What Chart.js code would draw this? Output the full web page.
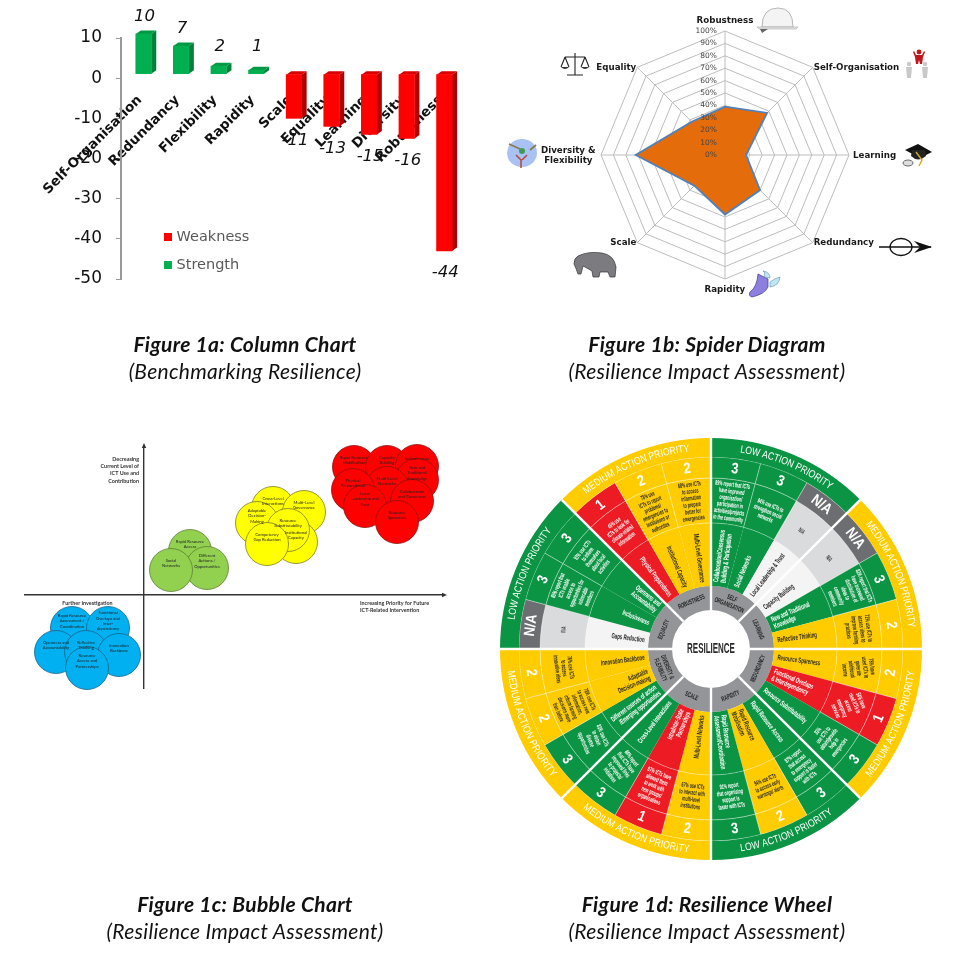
<!DOCTYPE html>
<html>
<head>
<meta charset="utf-8">
<title>Resilience figures</title>
<script src="https://cdn.jsdelivr.net/npm/chart.js@4"></script>
<style>
  html, body { margin: 0; padding: 0; background: #fff; }
  #page { position: relative; width: 961px; height: 956px; overflow: hidden; }
  canvas { position: absolute; }
  #icons { position: absolute; left: 0; top: 0; pointer-events: none; }
  .cap { position: absolute; width: 340px; text-align: center; font-family: Lato, sans-serif; font-style: italic; font-size: 21px; letter-spacing: .3px; line-height: 27px; color: #111; }
  .cap b { display: block; }
</style>
</head>
<body>
<div id="page">
  <canvas id="columnChart" width="480" height="300" style="left:0;top:0"></canvas>
  <canvas id="spiderChart" width="300" height="300" style="left:574.5px;top:5px"></canvas>
  <canvas id="bubbleChart" width="440" height="262" style="left:15px;top:436px;filter:blur(.3px)"></canvas>
  <canvas id="wheelChart" width="430" height="430" style="left:495.5px;top:434px;filter:blur(.25px)"></canvas>

  <svg id="icons" width="961" height="956">
    <!-- helmet -->
    <path d="M762 27 Q762 8 778 8 Q793 8 793 27 Z" fill="#f4f4f4" stroke="#b5b5b5"/>
    <path d="M757 27 L798 27 L796 29 L759 29 Z" fill="#e4e4e4" stroke="#aaa" stroke-width=".6"/>
    <path d="M760 29 L768 29 L762 33 Z" fill="#666"/>
    <!-- scales -->
    <path d="M575 53 V75 M567 75 H583 M565 57 H585 M565 57 L561 67 M565 57 L569 67 M585 57 L581 67 M585 57 L589 67" stroke="#222" stroke-width="1.1" fill="none"/>
    <path d="M561 67 Q565 71 569 67 Z M581 67 Q585 71 589 67 Z" fill="#333"/>
    <!-- figures -->
    <g fill="#c9c9c9"><circle cx="909" cy="64" r="2.2"/><circle cx="925" cy="64" r="2.2"/><path d="M906 67 H912 L911 78 H907 Z M922 67 H928 L927 78 H923 Z"/></g>
    <g fill="#c1151b"><circle cx="919" cy="52" r="2.4"/><path d="M914 51 L916 55 H922 L924 51 L925 52 L923 57 L922 64 H920 L919 60 L918 64 H916 L915 57 L913 52 Z"/></g>
    <!-- mortar board -->
    <path d="M905 150 L918 144 L932 152 L920 158 Z" fill="#111"/>
    <path d="M911 156 Q918 163 926 156 L925 150 L912 150 Z" fill="#222"/>
    <path d="M916 152 L922 160 L919 166" stroke="#d8a820" stroke-width="1.4" fill="none"/>
    <ellipse cx="908" cy="163" rx="5" ry="3" fill="#ddd" stroke="#666"/>
    <!-- arrow -->
    <path d="M879 247 H931" stroke="#111" stroke-width="1.6"/>
    <ellipse cx="901" cy="247" rx="11" ry="8.5" fill="none" stroke="#111" stroke-width="1.3"/>
    <path d="M914 241 L932 247 L914 253 L920 247 Z" fill="#111"/>
    <!-- winged shoe -->
    <path d="M758 274 L768 279 L768 287 Q765 294 752 297 Q748 296 750 292 Q757 287 758 274 Z" fill="#8d7fe0" stroke="#443a88" stroke-width=".7"/>
    <path d="M764 277 Q766 272 763 271 Q770 272 770 278 Z M770 282 Q775 278 780 277 Q779 286 770 287 Z" fill="#bfe6f5" stroke="#4a7f99" stroke-width=".5"/>
    <!-- elephant -->
    <path d="M578 256 Q588 251 602 253 Q614 255 616 267 L615 277 L610 277 L608 272 L600 272 L599 277 L593 277 L592 271 Q587 268 583 266 L581 274 L578 274 Q576 268 574 264 Q574 258 578 256 Z" fill="#7b7b80" stroke="#333" stroke-width=".7"/>
    <!-- diversity -->
    <ellipse cx="522" cy="153" rx="15" ry="14" fill="#a9c2f4"/>
    <path d="M509 144 L520 149 M530 150 L536 145" stroke="#8b7a55" stroke-width="1.8"/>
    <circle cx="522" cy="151" r="3" fill="#3f9a55"/>
    <path d="M516 155 L521 160 L521 168 M527 155 L522 160" stroke="#b7453a" stroke-width="1.5" fill="none"/>
  </svg>

  <div class="cap" style="left:75px;top:330px"><b>Figure 1a: Column Chart</b>(Benchmarking Resilience)</div>
  <div class="cap" style="left:537px;top:330px"><b>Figure 1b: Spider Diagram</b>(Resilience Impact Assessment)</div>
  <div class="cap" style="left:75px;top:890px"><b>Figure 1c: Bubble Chart</b>(Resilience Impact Assessment)</div>
  <div class="cap" style="left:537px;top:890px"><b>Figure 1d: Resilience Wheel</b>(Resilience Impact Assessment)</div>
</div>

<script>
// figure 1a
const columnCategories = ['Self-Organisation', 'Redundancy', 'Flexibility', 'Rapidity', 'Scale', 'Equality', 'Learning', 'Diversity', 'Robustness']
const strengthValues = [10, 7, 2, 1, null, null, null, null, null]
const weaknessValues = [null, null, null, null, -11, -13, -15, -16, -44]

// figure 1b
const spiderLabels = ['Robustness', 'Self-Organisation', 'Learning', 'Redundancy', 'Rapidity', 'Scale', ['Diversity &', 'Flexibility'], 'Equality']
const spiderValues = [39, 48, 17, 40, 48, 35, 72, 38]
const spiderTicks = [0, 10, 20, 30, 40, 50, 60, 70, 80, 90, 100]

// figure 1c
const greenNames = [['Rapid Resource', 'Access'], ['Different', 'Actions /', 'Opportunities'], ['Social', 'Networks']]
const greenX = [46, 63, 27]
const greenY = [44, 27, 25]
const yellowNames = [['Cross-Level', 'Interactions'], ['Multi-Level', 'Governance'], ['Adaptable', 'Decision-', 'Making'], ['Institutional', 'Capacity'], ['Resource', 'Substitutability'], ['Competency', 'Gap Reduction']]
const yellowX = [129, 160, 113, 152, 144, 123]
const yellowY = [87, 83, 72, 53, 65, 51]
const redNames = [['Rapid Resource', 'Mobilisation'], ['Capacity', 'Building'], ['Inclusiveness'], ['New and', 'Traditional', 'Knowledge'], ['Multi-Level', 'Networks'], ['Physical', 'Preparedness'], ['Collaboration', 'and Consensus'], ['Local', 'Leadership and', 'Trust'], ['Resource', 'Spareness']]
const redX = [210, 243, 273, 273, 243, 209, 268, 221, 253]
const redY = [128, 128, 129, 115, 107, 105, 94, 89, 73]
const blueNames = [['Rapid Resource', 'Assessment /', 'Coordination'], ['Functional', 'Overlaps and', 'Inter-', 'dependency'], ['Openness and', 'Accountability'], ['Reflective', 'Thinking'], ['Innovation', 'Backbone'], ['Resource', 'Access and', 'Partnerships']]
const blueX = [-72, -36, -88, -58, -25, -57]
const blueY = [-33, -33, -57, -57, -60, -73]
const bubbleSize = 21.5

// figure 1d, clockwise from twelve o'clock
const wheelDimensions = ['SELF\nORGANISATION', 'LEARNING', 'REDUNDANCY', 'RAPIDITY', 'SCALE', 'DIVERSITY &\nFLEXIBILITY', 'EQUALITY', 'ROBUSTNESS']
const wheelPriorities = ['LOW ACTION PRIORITY', 'MEDIUM ACTION PRIORITY', 'MEDIUM ACTION PRIORITY', 'LOW ACTION PRIORITY', 'MEDIUM ACTION PRIORITY', 'MEDIUM ACTION PRIORITY', 'LOW ACTION PRIORITY', 'MEDIUM ACTION PRIORITY']
const factorsPerDimension = [3, 3, 3, 3, 3, 3, 3, 3]
const wheelScores = ['3', '3', 'N/A', 'N/A', '3', '2', '2', '1', '3', '3', '2', '3', '2', '1', '3', '3', '2', '2', 'N/A', '3', '3', '1', '2', '2']
const wheelFactors = [
  ['Collaboration/Consensus', 'Building & Participation'], ['Social Networks'], ['Local Leadership & Trust'],
  ['Capacity Building'], ['New and Traditional', 'Knowledge'], ['Reflective Thinking'],
  ['Resource Spareness'], ['Functional Overlaps', '& Interdependency'], ['Resource Substitutability'],
  ['Rapid Resource Access'], ['Rapid Resource', 'Mobilisation'], ['Rapid Resource', 'Assessment/Coordination'],
  ['Multi-Level Networks'], ['Intra/Inter-State', 'Partnerships'], ['Cross-Level Interactions'],
  ['Different sources of action', '/Emerging opportunities'], ['Adaptable', 'Decision-making'], ['Innovation Backbone'],
  ['Gaps Reduction'], ['Inclusiveness'], ['Openness and', 'Accountability'],
  ['Physical Preparedness'], ['Institutional Capacity'], ['Multi-Level Governance']
]
const wheelStatements = [
  ['89% report that ICTs', 'have improved', 'organisation/', 'participation in', 'activities/projects', 'in the community'],
  ['94% use ICTs to', 'strengthen social', 'networks'],
  ['N/A'],
  ['N/A'],
  ['83% report that ICTs', 'have increased', 'distribution of', 'ideas to', 'community', 'members'],
  ['72% use ICTs to', 'access ideas to', 'improve farming', 'practices'],
  ['78% have', 'used ICTs to', 'generate', 'additional', 'income'],
  ['54% have', 'used ICTs to', 'access', 'emergency', 'services'],
  ['83%', 'use ICTs to', 'obtain/provide', 'help in', 'emergencies'],
  ['87% report', 'that access', 'to emergency', 'support is faster', 'with ICTs'],
  ['94% use ICTs', 'to access early', 'warnings/ alerts'],
  ['91% report', 'that organising', 'support is', 'faster with ICTs'],
  ['67% use ICTs', 'to interact with', 'multi-level', 'institutions'],
  ['87% ICTs have', 'allowed them', 'to work with', 'new groups/', 'organisations'],
  ['84% report', 'that ICTs have', 'improved links', 'to projects/', 'initiatives'],
  ['83% use ICTs', 'to obtain', 'diverse', 'opportunities'],
  ['78% use ICTs', 'to access new', 'information,', 'inform farming', 'decisions more', 'than before'],
  ['76% use ICTs', 'to access', 'innovative ideas'],
  ['N/A'],
  ['85% report that', 'ICTs enable', 'access to', 'opportunities for', 'vulnerable', 'members'],
  ['93% use ICTs', 'to inform', 'themselves', 'about local', 'activities'],
  ['45% use', 'ICTs to look for', 'climate-related', 'information'],
  ['78% use', 'ICTs to report', 'problems/', 'emergencies to', 'institutions or', 'authorities'],
  ['68% use ICTs', 'to access', 'information', 'to prepare', 'better for', 'emergencies']
]

Chart.defaults.animation = false
Chart.defaults.responsive = false
Chart.defaults.plugins.legend.display = false
Chart.defaults.plugins.tooltip.enabled = false

const VERDANA = '"DejaVu Sans", sans-serif'
const WHEEL_FONT = '"Liberation Sans", sans-serif'

// ---- column chart ----
const barShift = { x: 3.7, y: -4 }
const barDepth = { x: 5, y: -3.5 }

const columnPlugin = {
  id: 'column3d',
  beforeDatasetsDraw(chart) {
    const ctx = chart.ctx
    ctx.save()
    ctx.translate(barShift.x, barShift.y)
    chart.data.datasets.forEach((ds, i) => {
      chart.getDatasetMeta(i).data.forEach((bar, j) => {
        if (ds.data[j] == null) return
        const left = bar.x - bar.width / 2, right = bar.x + bar.width / 2
        const top = Math.min(bar.y, bar.base), bottom = Math.max(bar.y, bar.base)
        ctx.fillStyle = ds.sideColor
        ctx.beginPath()
        ctx.moveTo(right, top); ctx.lineTo(right + barDepth.x, top + barDepth.y)
        ctx.lineTo(right + barDepth.x, bottom + barDepth.y); ctx.lineTo(right, bottom)
        ctx.fill()
        ctx.fillStyle = ds.topColor
        ctx.beginPath()
        ctx.moveTo(left, top); ctx.lineTo(left + barDepth.x, top + barDepth.y)
        ctx.lineTo(right + barDepth.x, top + barDepth.y); ctx.lineTo(right, top)
        ctx.fill()
      })
    })
  },
  afterDatasetsDraw(chart) {
    const ctx = chart.ctx
    ctx.restore()
    ctx.save()
    ctx.font = 'italic 16.5px ' + VERDANA
    ctx.fillStyle = '#111'
    ctx.textAlign = 'center'
    ctx.textBaseline = 'middle'
    chart.data.datasets.forEach((ds, i) => {
      chart.getDatasetMeta(i).data.forEach((bar, j) => {
        const v = ds.data[j]
        if (v == null) return
        const x = bar.x + barShift.x + 1
        const y = v > 0 ? Math.min(bar.y + barShift.y - 17, 47) : bar.y + barShift.y + 22
        ctx.fillText(String(v), x, y)
      })
    })
    // legend, weakness first like the source
    ctx.font = '14.5px ' + VERDANA
    ctx.textAlign = 'left'
    chart.data.datasets.forEach((ds, i) => {
      const y = 237 + i * 28
      ctx.fillStyle = ds.backgroundColor
      ctx.fillRect(164, y - 4, 8, 8)
      ctx.fillStyle = '#595959'
      ctx.fillText(ds.label, 176.5, y)
    })
    ctx.restore()
  }
}

new Chart(document.getElementById('columnChart'), {
  type: 'bar',
  data: {
    labels: columnCategories,
    datasets: [
      { label: 'Weakness', data: weaknessValues, backgroundColor: '#FF0000', sideColor: '#B00000', topColor: '#D80000', grouped: false, barThickness: 15.5, clip: false },
      { label: 'Strength', data: strengthValues, backgroundColor: '#00B050', sideColor: '#00803A', topColor: '#009A46', grouped: false, barThickness: 15.5, clip: false }
    ]
  },
  options: {
    layout: { padding: { left: 0, right: 20.6, top: 38, bottom: 21 } },
    scales: {
      x: {
        position: { y: 0 },
        z: 1,
        grid: { display: false },
        border: { display: false },
        ticks: { autoSkip: false, minRotation: 45, maxRotation: 45, padding: 6, color: '#111', font: { family: VERDANA, size: 13.5, weight: 'bold' } },
        afterFit(s) { s.paddingLeft = 0; s.paddingRight = 0 }
      },
      y: {
        min: -50, max: 10,
        grid: { drawOnChartArea: false, color: '#999', tickLength: 5 },
        border: { color: '#999', width: 2 },
        ticks: { stepSize: 10, padding: 14, color: '#111', font: { family: VERDANA, size: 17 } },
        afterFit(s) { s.width = 121; s.paddingTop = 0; s.paddingBottom = 0 }
      }
    }
  },
  plugins: [columnPlugin]
})

// ---- spider diagram ----
const spiderPlugin = {
  id: 'spiderText',
  afterDatasetsDraw(chart) {
    const ctx = chart.ctx, scale = chart.scales.r
    ctx.save()
    ctx.textBaseline = 'middle'
    ctx.font = '7.5px ' + VERDANA
    ctx.fillStyle = '#444'
    ctx.textAlign = 'right'
    spiderTicks.forEach(v => {
      const y = scale.getPointPositionForValue(0, v).y
      ctx.fillText(v + '%', scale.xCenter - 8, y)
    })
    ctx.restore()
  }
}

new Chart(document.getElementById('spiderChart'), {
  type: 'radar',
  data: {
    labels: spiderLabels,
    datasets: [{ data: spiderValues, backgroundColor: '#E46C0A', borderColor: '#4F81BD', borderWidth: 1.8, pointRadius: 0, tension: 0 }]
  },
  options: {
    layout: { padding: 25.5 },
    scales: {
      r: {
        min: 0, max: 100,
        ticks: { display: false, stepSize: 10 },
        grid: { color: '#bdbdbd', lineWidth: 1 },
        angleLines: { color: '#bdbdbd' },
        pointLabels: { display: false }
      }
    }
  },
  plugins: [spiderPlugin]
})

// point labels sit well outside the square canvas, so they are page text
;(function placeSpiderLabels() {
  const chart = Chart.getChart('spiderChart')
  const scale = chart.scales.r
  const page = document.getElementById('page')
  const box = document.getElementById('spiderChart')
  spiderLabels.forEach((label, i) => {
    const p = scale.getPointPositionForValue(i, 100)
    const px = p.x + box.offsetLeft, py = p.y + box.offsetTop
    const el = document.createElement('div')
    el.innerHTML = [].concat(label).join('<br>')
    el.style.cssText = 'position:absolute;white-space:nowrap;text-align:center;font:bold 8.7px/10.5px ' + VERDANA.replace(/"/g, "'") + ';color:#1a1a1a'
    page.appendChild(el)
    const w = el.offsetWidth, h = el.offsetHeight
    const dx = p.x - scale.xCenter, dy = p.y - scale.yCenter
    let left = px - w / 2, top = py - h / 2
    if (dx > 1) left = px + (Math.abs(dy) < 1 ? 4 : 1)
    if (dx < -1) left = px - w - (Math.abs(dy) < 1 ? 5 : 1)
    if (Math.abs(dx) < 1) top = py + (dy < 0 ? -16 : 5)
    el.style.left = left + 'px'
    el.style.top = top + 'px'
  })
})()

// ---- bubble chart ----
function bubbleGroup(xs, ys, names, fill, stroke) {
  return {
    data: xs.map((x, i) => ({ x: x, y: ys[i], r: bubbleSize })),
    names: names,
    backgroundColor: fill,
    borderColor: stroke,
    borderWidth: 0.8,
    clip: false
  }
}

function arrowHead(ctx, x, y, angle) {
  ctx.save()
  ctx.translate(x, y)
  ctx.rotate(angle)
  ctx.beginPath()
  ctx.moveTo(3, 0); ctx.lineTo(-2, -2.2); ctx.lineTo(-2, 2.2)
  ctx.closePath()
  ctx.fill()
  ctx.restore()
}

const bubblePlugin = {
  id: 'bubbleText',
  afterDatasetsDraw(chart) {
    const ctx = chart.ctx, area = chart.chartArea
    ctx.save()
    ctx.textAlign = 'center'
    ctx.textBaseline = 'middle'
    ctx.fillStyle = '#222'
    ctx.font = '4.2px Lato, sans-serif'
    chart.data.datasets.forEach((ds, i) => {
      chart.getDatasetMeta(i).data.forEach((pt, j) => {
        const lines = ds.names[j]
        lines.forEach((t, k) => ctx.fillText(t, pt.x, pt.y - 7 + (k - (lines.length - 1) / 2) * 5.3))
      })
    })
    const xo = chart.scales.x.getPixelForValue(0), yo = chart.scales.y.getPixelForValue(0)
    ctx.fillStyle = '#333'
    arrowHead(ctx, area.right, yo, 0)
    arrowHead(ctx, xo, area.top, -Math.PI / 2)
    ctx.font = 'bold 5.4px Lato, sans-serif'
    ctx.textAlign = 'right'
    ;['Decreasing', 'Current Level of', 'ICT Use and', 'Contribution'].forEach((t, k) => ctx.fillText(t, xo - 5, area.top + 13 + k * 7.3))
    ctx.textAlign = 'center'
    ctx.fillText('Further Investigation', xo - 56.5, yo + 8)
    ctx.textAlign = 'left'
    ;['Increasing Priority for Future', 'ICT-Related Intervention'].forEach((t, k) => ctx.fillText(t, xo + 216, yo + 8 + k * 7.3))
    ctx.restore()
  }
}

new Chart(document.getElementById('bubbleChart'), {
  type: 'bubble',
  data: {
    datasets: [
      bubbleGroup(greenX, greenY, greenNames, '#92D050', '#5f7f35'),
      bubbleGroup(yellowX, yellowY, yellowNames, '#FFFF00', '#7f7f20'),
      bubbleGroup(redX, redY, redNames, '#FF0000', '#8f1010'),
      bubbleGroup(blueX, blueY, blueNames, '#00B0F0', '#14658a')
    ]
  },
  options: {
    layout: { autoPadding: false, padding: { left: 10, right: 11, top: 10, bottom: 10 } },
    scales: {
      x: { min: -119, max: 300, position: { y: 0 }, grid: { display: false }, ticks: { display: false }, border: { color: '#333', width: 1.4 } },
      y: { min: -93, max: 149, position: { x: 0 }, grid: { display: false }, ticks: { display: false }, border: { color: '#333', width: 1.4 } }
    }
  },
  plugins: [bubblePlugin]
})

// ---- resilience wheel ----
const scoreColor = { '1': '#ED1C24', '2': '#FFCC00', '3': '#0B9444', 'N/A': '#6D6E71' }
const statementColor = { '1': '#ED1C24', '2': '#FFCC00', '3': '#0B9444', 'N/A': '#DADBDD' }
const factorColor = { '1': '#ED1C24', '2': '#FFCC00', '3': '#0B9444', 'N/A': '#F4F4F4' }
const inkColor = { '1': '#fff', '2': '#2a2a2a', '3': '#fff', 'N/A': '#444' }

function clockDeg(angle) { return ((angle + Math.PI / 2) * 180 / Math.PI + 720) % 360 }

// rotation that keeps text upright-ish around the ring
function tangentRot(deg) {
  if (deg < 90) return deg
  if (deg < 270) return deg - 180
  return deg - 360
}

// statements mostly follow the ring, a few cells are set at their own tilt
function statementRot(deg) {
  if (deg > 90 && deg < 120) return 180 - deg
  if (deg > 210 && deg < 225) return 270 - deg
  if (deg > 225 && deg < 240) return deg - 165
  return tangentRot(deg)
}

function rad(d) { return d * Math.PI / 180 }

// the wheel's type is condensed, no installed face is that narrow
function squeezedText(ctx, text, x, y, squeeze) {
  ctx.save()
  ctx.translate(x, y)
  ctx.scale(squeeze, 1)
  ctx.fillText(text, 0, 0)
  ctx.restore()
}

function curvedText(ctx, text, cx, cy, r, mid, squeeze) {
  const deg = clockDeg(mid)
  const bottom = deg > 90 && deg < 270
  const widths = [...text].map(c => ctx.measureText(c).width * squeeze + 0.1)
  const total = widths.reduce((a, b) => a + b, 0)
  let pos = -total / 2
  ;[...text].forEach((c, i) => {
    const off = (pos + widths[i] / 2) / r
    const a = bottom ? mid - off : mid + off
    ctx.save()
    ctx.translate(cx + Math.cos(a) * r, cy + Math.sin(a) * r)
    ctx.rotate(bottom ? a - Math.PI / 2 : a + Math.PI / 2)
    squeezedText(ctx, c, 0, 0, squeeze)
    ctx.restore()
    pos += widths[i]
  })
}

const wheelPlugin = {
  id: 'wheelText',
  afterDatasetsDraw(chart) {
    const ctx = chart.ctx
    const band = chart.getDatasetMeta(0).data
    const score = chart.getDatasetMeta(1).data
    const statement = chart.getDatasetMeta(2).data
    const factor = chart.getDatasetMeta(3).data
    const dims = chart.getDatasetMeta(4).data
    const cx = band[0].x, cy = band[0].y
    ctx.save()
    ctx.textBaseline = 'middle'
    ctx.textAlign = 'center'

    // white spokes between the eight dimensions
    ctx.strokeStyle = '#fff'
    ctx.lineWidth = 2.4
    dims.forEach(d => {
      ctx.beginPath()
      ctx.moveTo(cx + Math.cos(d.startAngle) * d.innerRadius, cy + Math.sin(d.startAngle) * d.innerRadius)
      ctx.lineTo(cx + Math.cos(d.startAngle) * band[0].outerRadius, cy + Math.sin(d.startAngle) * band[0].outerRadius)
      ctx.stroke()
    })

    band.forEach((b, i) => {
      const r = (b.innerRadius + b.outerRadius) / 2
      ctx.fillStyle = '#fff'
      ctx.font = '10.5px ' + WHEEL_FONT
      curvedText(ctx, wheelPriorities[i], cx, cy, r, (b.startAngle + b.endAngle) / 2, 0.82)
    })

    dims.forEach((d, i) => {
      const mid = (d.startAngle + d.endAngle) / 2
      const r = (d.innerRadius + d.outerRadius) / 2
      const lines = wheelDimensions[i].split('\n')
      ctx.save()
      ctx.translate(cx + Math.cos(mid) * r, cy + Math.sin(mid) * r)
      ctx.rotate(rad(tangentRot(clockDeg(mid))))
      ctx.fillStyle = '#222'
      ctx.font = 'bold 7px ' + WHEEL_FONT
      lines.forEach((t, k) => squeezedText(ctx, t, 0, (k - (lines.length - 1) / 2) * 7.5, 0.58))
      ctx.restore()
    })

    score.forEach((s, i) => {
      const mid = (s.startAngle + s.endAngle) / 2
      const r = (s.innerRadius + s.outerRadius) / 2
      ctx.save()
      ctx.translate(cx + Math.cos(mid) * r, cy + Math.sin(mid) * r)
      ctx.rotate(rad(tangentRot(clockDeg(mid))))
      ctx.fillStyle = '#fff'
      ctx.font = 'bold 15px ' + WHEEL_FONT
      squeezedText(ctx, wheelScores[i], 0, 0, 0.85)
      ctx.restore()
    })

    statement.forEach((s, i) => {
      const mid = (s.startAngle + s.endAngle) / 2
      const r = (s.innerRadius + s.outerRadius) / 2
      const deg = clockDeg(mid)
      const lines = wheelStatements[i]
      ctx.save()
      ctx.translate(cx + Math.cos(mid) * r, cy + Math.sin(mid) * r)
      ctx.rotate(rad(statementRot(deg)))
      ctx.fillStyle = inkColor[wheelScores[i]]
      ctx.font = 'bold 6.6px ' + WHEEL_FONT
      lines.forEach((t, k) => squeezedText(ctx, t, 0, (k - (lines.length - 1) / 2) * 6.8, 0.55))
      ctx.restore()
    })

    factor.forEach((f, i) => {
      const mid = (f.startAngle + f.endAngle) / 2
      const deg = clockDeg(mid)
      const right = deg < 180
      const lines = wheelFactors[i]
      const r = f.innerRadius + 4
      ctx.save()
      ctx.translate(cx + Math.cos(mid) * r, cy + Math.sin(mid) * r)
      ctx.rotate(right ? mid : mid + Math.PI)
      ctx.textAlign = right ? 'left' : 'right'
      ctx.fillStyle = wheelScores[i] === 'N/A' ? '#222' : inkColor[wheelScores[i]]
      ctx.font = 'bold 7.5px ' + WHEEL_FONT
      lines.forEach((t, k) => squeezedText(ctx, t, 0, (k - (lines.length - 1) / 2) * 7.4, 0.58))
      ctx.restore()
    })

    ctx.fillStyle = '#2b2b2b'
    ctx.font = 'bold 14px ' + WHEEL_FONT
    squeezedText(ctx, 'RESILIENCE', cx, cy, 0.57)
    ctx.restore()
  }
}

const ones = wheelScores.map(() => 1)
const thinRule = 'rgba(255,255,255,.4)'

new Chart(document.getElementById('wheelChart'), {
  type: 'doughnut',
  data: {
    labels: wheelFactors.map(f => f.join(' ')),
    datasets: [
      { data: factorsPerDimension, weight: 19, backgroundColor: wheelPriorities.map(p => p[0] === 'L' ? '#0B9444' : '#FFCC00'), borderWidth: 0 },
      { data: ones, weight: 21, backgroundColor: wheelScores.map(s => scoreColor[s]), borderColor: thinRule, borderWidth: 0.8 },
      { data: ones, weight: 45, backgroundColor: wheelScores.map(s => statementColor[s]), borderColor: thinRule, borderWidth: 0.8 },
      { data: ones, weight: 63, backgroundColor: wheelScores.map(s => factorColor[s]), borderWidth: 0 },
      { data: factorsPerDimension, weight: 24, backgroundColor: '#939598', borderWidth: 0 }
    ]
  },
  options: {
    cutout: 39,
    layout: { padding: 4 }
  },
  plugins: [wheelPlugin]
})
</script>
</body>
</html>
